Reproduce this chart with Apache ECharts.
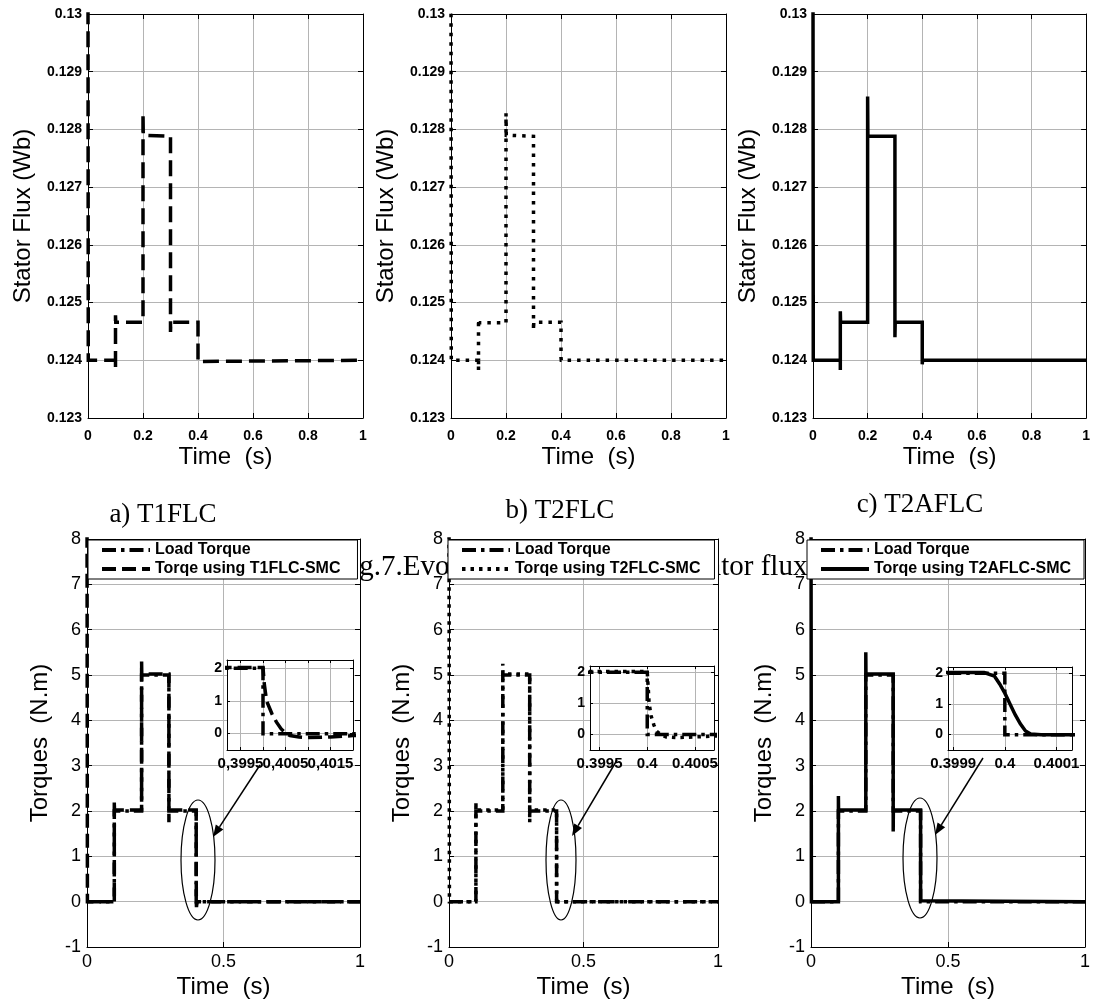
<!DOCTYPE html>
<html><head><meta charset="utf-8">
<script src="https://cdn.jsdelivr.net/npm/echarts@6/dist/echarts.min.js"></script>
<style>html,body{margin:0;padding:0;background:#fff}#c{width:1093px;height:1005px}</style>
</head><body><div id="c"></div>
<script>
// ---------- DATA ----------
const fluxTime   = [0, 0.001, 0.1, 0.1, 0.1, 0.101, 0.2, 0.2, 0.201, 0.3, 0.3, 0.301, 0.4, 0.4, 0.401, 1];
const fluxT1FLC  = [0.1305, 0.124, 0.124, 0.12384, 0.12478, 0.12466, 0.12466, 0.12828, 0.1279, 0.12788, 0.12449, 0.12466, 0.12466, 0.12398, 0.124, 0.124];
const fluxT2FLC  = [0.1305, 0.124, 0.124, 0.12383, 0.12471, 0.12465, 0.12465, 0.12828, 0.1279, 0.12788, 0.12452, 0.12466, 0.12466, 0.12405, 0.124, 0.124];
const fluxT2AFLC = [0.1305, 0.124, 0.124, 0.12383, 0.12485, 0.12466, 0.12466, 0.12857, 0.12788, 0.12788, 0.1244, 0.12466, 0.12466, 0.12393, 0.124, 0.124];

const loadTime   = [0, 0.1, 0.1, 0.2, 0.2, 0.3, 0.3, 0.4, 0.4, 1];
const loadTorque = [0, 0, 2, 2, 5, 5, 2, 2, 0, 0];

const torqueTimeT1 = [0, 0.0015, 0.1, 0.1, 0.1006, 0.2, 0.2, 0.2006, 0.3, 0.3, 0.3006, 0.4, 0.40003, 0.40008, 0.4002, 0.4003, 0.4004, 0.4005, 0.4006, 0.4008, 0.401, 0.4015, 0.402, 0.405, 1];
const torqueT1     = [9, 0, 0, 2.22, 2.02, 2.02, 5.3, 5.02, 5.02, 1.75, 2.02, 2.02, 1.5, 1.0, 0.6, 0.35, 0.15, 0.02, -0.06, -0.1, -0.12, -0.1, -0.06, 0, 0];
const torqueTimeT2 = [0, 0.0015, 0.1, 0.1, 0.1006, 0.2, 0.2, 0.2006, 0.3, 0.3, 0.3006, 0.4, 0.40002, 0.40004, 0.40007, 0.4001, 0.40015, 0.4002, 0.4003, 0.4005, 0.4007, 0.403, 1];
const torqueT2     = [9, 0, 0, 2.2, 2.02, 2.02, 5.25, 5.02, 5.02, 1.75, 2.02, 2.02, 1.0, 0.6, 0.3, 0.1, -0.02, -0.08, -0.1, -0.08, -0.05, 0, 0];
const torqueTimeT2A = [0, 0.0015, 0.1, 0.1, 0.1006, 0.2, 0.2, 0.2006, 0.3, 0.3, 0.3006, 0.39996, 0.39998, 0.39999, 0.4, 0.40001, 0.40002, 0.40003, 0.40004, 0.40005, 0.40007, 1];
const torqueT2A     = [9, 0, 0, 2.33, 2.02, 2.02, 5.5, 5.02, 5.02, 1.55, 2.02, 2.02, 1.9, 1.65, 1.35, 1.0, 0.65, 0.35, 0.12, 0.02, 0, 0];

const insetTicksA = {3995: '0,3995', 4005: '0,4005', 4015: '0,4015'};
const insetTicksB = {3995: '0.3995', 4000: '0.4', 4005: '0.4005'};
const insetTicksC = {39990: '0.3999', 40000: '0.4', 40010: '0.4001'};

const names = {
  load: 'Load Torque',
  t1: 'Torqe using T1FLC-SMC',
  t2: 'Torqe using T2FLC-SMC',
  t2a: 'Torqe using T2AFLC-SMC'
};
const captions = ['a) T1FLC', 'b) T2FLC', 'c) T2AFLC'];
const figCaption = ['Fig.7.Evolution of', 'stator flux'];

// ---------- BUILD ----------
const SANS = '"Liberation Sans", Arial, Helvetica, sans-serif';
const SERIF = '"Liberation Serif", "Times New Roman", serif';
const grids = [], xAxes = [], yAxes = [], series = [];

function scaleOpt(r, auto) {
  // auto: let ECharts put ticks on multiples of the step, box edges stay at min/max
  return auto ? {min: r[0], max: r[1], minInterval: r[2], maxInterval: r[2], splitNumber: 5}
              : {min: r[0], max: r[1], interval: r[2]};
}

function panel(rect, o) {
  const gi = grids.length;
  const z = o.z || 0;
  grids.push(Object.assign({show: true, backgroundColor: '#fff', borderWidth: 0, z: z}, rect));
  const line = {show: true, onZero: false, lineStyle: {color: '#000', width: 1}};
  const tick = {show: true, inside: true, length: o.tickLen || 5, lineStyle: {color: '#000', width: 1}};
  const split = {show: true, lineStyle: {color: '#b4b4b4', width: 1, type: 'solid'}};
  function lab(fs, margin, fmt) {
    const l = {show: true, color: '#000', fontFamily: SANS, fontSize: fs, fontWeight: o.bold ? 'bold' : 'normal', margin: margin, hideOverlap: false};
    if (fmt) l.formatter = fmt;
    return l;
  }
  const nts = {color: '#000', fontFamily: SANS, fontSize: 24};
  const xs = scaleOpt(o.x, o.auto), ys = scaleOpt(o.y, o.auto);
  xAxes.push(Object.assign({type: 'value', gridIndex: gi, position: 'bottom', z: z,
    axisLine: line, axisTick: tick, splitLine: split, axisLabel: lab(o.xfs, o.xm, o.xfmt),
    name: o.xname || '', nameLocation: 'middle', nameGap: o.xgap || 0, nameTextStyle: nts}, xs));
  xAxes.push(Object.assign({type: 'value', gridIndex: gi, position: 'top', z: z,
    axisLine: line, axisTick: tick, splitLine: {show: false}, axisLabel: {show: false}}, xs));
  yAxes.push(Object.assign({type: 'value', gridIndex: gi, position: 'left', z: z,
    axisLine: line, axisTick: tick, splitLine: split, axisLabel: lab(o.yfs, o.ym, o.yfmt),
    name: o.yname || '', nameLocation: 'middle', nameGap: o.ygap || 0, nameTextStyle: nts}, ys));
  yAxes.push(Object.assign({type: 'value', gridIndex: gi, position: 'right', z: z,
    axisLine: line, axisTick: tick, splitLine: {show: false}, axisLabel: {show: false}}, ys));
  return gi;
}

function addLine(gi, name, t, v, style) {
  series.push({
    type: 'line', name: name, xAxisIndex: 2 * gi, yAxisIndex: 2 * gi,
    data: t.map((x, i) => [x, v[i]]),
    symbol: 'none', showSymbol: false, silent: true, animation: false, clip: true,
    itemStyle: {color: '#000'},
    lineStyle: Object.assign({color: '#000', cap: 'butt', join: 'miter'}, style)
  });
}

const sDash   = {width: 3.5, type: [16, 7]};
const sDot    = {width: 3.5, type: [3.5, 6]};
const sSolid  = {width: 3.5, type: 'solid'};
const sDashDot = {width: 3.5, type: [14, 5, 3.5, 5]};
const sTqDash = {width: 3.5, type: [14, 6]};
const sTqDot  = {width: 3.5, type: [3.5, 5]};

const fluxOpt = {x: [0, 1, 0.2], y: [0.123, 0.13, 0.001], bold: true, xfs: 14, yfs: 14, xm: 11, ym: 6,
  xname: 'Time  (s)', xgap: 27, yname: 'Stator Flux (Wb)', ygap: 53};
const gFa = panel({left: 88, top: 14, width: 275, height: 404}, fluxOpt);
const gFb = panel({left: 451, top: 14, width: 275, height: 404}, fluxOpt);
const gFc = panel({left: 813, top: 14, width: 278, height: 404}, fluxOpt);
addLine(gFa, 'flux T1FLC', fluxTime, fluxT1FLC, sDash);
addLine(gFb, 'flux T2FLC', fluxTime, fluxT2FLC, sDot);
addLine(gFc, 'flux T2AFLC', fluxTime, fluxT2AFLC, sSolid);

const tqOpt = {x: [0, 1, 0.5], y: [-1, 8, 1], bold: false, xfs: 18, yfs: 18, xm: 6, ym: 6,
  xname: 'Time  (s)', xgap: 28, yname: 'Torques  (N.m)', ygap: 35};
const gTa = panel({left: 87, top: 539, width: 273, height: 408}, tqOpt);
const gTb = panel({left: 449, top: 539, width: 269, height: 408}, tqOpt);
const gTc = panel({left: 811, top: 539, width: 278, height: 408}, tqOpt);
addLine(gTa, names.load, loadTime, loadTorque, sDashDot);
addLine(gTa, names.t1, torqueTimeT1, torqueT1, sTqDash);
addLine(gTb, names.load, loadTime, loadTorque, sDashDot);
addLine(gTb, names.t2, torqueTimeT2, torqueT2, sTqDot);
addLine(gTc, names.load, loadTime, loadTorque, sDashDot);
addLine(gTc, names.t2a, torqueTimeT2A, torqueT2A, sSolid);

const yInsetFmt = v => { const r = Math.round(v * 100) / 100; return (r % 1 === 0) ? String(Math.abs(r) === 0 ? 0 : r) : ''; };
const insBase = {auto: true, bold: true, xfs: 15, yfs: 14, xm: 6, ym: 5, z: 1, tickLen: 3, yfmt: yInsetFmt};
const gIa = panel({left: 227, top: 660, width: 126, height: 90},
  Object.assign({}, insBase, {y: [-0.5, 2.25, 1], x: [0.3992, 0.402, 0.0005], xfmt: v => insetTicksA[Math.round(v * 1e4)] || ''}));
const gIb = panel({left: 590, top: 666, width: 124, height: 84},
  Object.assign({}, insBase, {y: [-0.5, 2.2, 1], x: [0.3994, 0.4007, 0.0005], xfmt: v => insetTicksB[Math.round(v * 1e4)] || ''}));
const gIc = panel({left: 948, top: 667, width: 124, height: 83},
  Object.assign({}, insBase, {y: [-0.5, 2.2, 1], x: [0.39989, 0.40013, 0.0001], xfmt: v => insetTicksC[Math.round(v * 1e5)] || ''}));
addLine(gIa, names.load, loadTime, loadTorque, sDashDot);
addLine(gIa, names.t1, torqueTimeT1, torqueT1, sTqDash);
addLine(gIb, names.load, loadTime, loadTorque, sDashDot);
addLine(gIb, names.t2, torqueTimeT2, torqueT2, sTqDot);
addLine(gIc, names.load, loadTime, loadTorque, sDashDot);
addLine(gIc, names.t2a, torqueTimeT2A, torqueT2A, sSolid);

function legend(left, second, padR) {
  return {
    left: left, top: 540, orient: 'vertical', selectedMode: false,
    data: [names.load, second],
    backgroundColor: '#fff', borderColor: '#000', borderWidth: 1, borderRadius: 0,
    padding: [2, padR, 2, 12], itemGap: 3, itemWidth: 48, itemHeight: 14,
    itemStyle: {opacity: 0, borderWidth: 0},
    lineStyle: {width: 4},
    textStyle: {color: '#000', fontFamily: SANS, fontWeight: 'bold', fontSize: 16}
  };
}

function arrow(x1, y1, x2, y2) {
  const dx = x2 - x1, dy = y2 - y1, L = Math.hypot(dx, dy), ux = dx / L, uy = dy / L, h = 12, w = 4.5;
  const bx = x2 - ux * h, by = y2 - uy * h;
  return [
    {type: 'line', shape: {x1: x1, y1: y1, x2: bx, y2: by}, style: {stroke: '#000', lineWidth: 1.5}, z: 20, silent: true},
    {type: 'polygon', shape: {points: [[x2, y2], [bx - uy * w, by + ux * w], [bx + uy * w, by - ux * w]]}, style: {fill: '#000'}, z: 20, silent: true}
  ];
}
function ellipse(cx, cy, rx, ry) {
  return {type: 'ellipse', shape: {cx: cx, cy: cy, rx: rx, ry: ry}, style: {fill: 'none', stroke: '#000', lineWidth: 1.2}, z: 20, silent: true};
}
function txt(s, x, y, size, align) {
  return {type: 'text', x: x, y: y, z: -1, silent: true,
    style: {text: s, fontSize: size, fontFamily: SERIF, fill: '#000', textAlign: align, align: align, textVerticalAlign: 'middle', verticalAlign: 'middle'}};
}

const elements = [
  txt(captions[0], 163, 515, 27, 'center'),
  txt(captions[1], 560, 511, 27, 'center'),
  txt(captions[2], 920, 505, 27, 'center'),
  txt(figCaption[0], 335, 567, 29, 'left'),
  txt(figCaption[1], 689, 567, 29, 'left'),
  ellipse(198, 860, 17, 60),
  ellipse(561, 860, 15, 60),
  ellipse(920, 858, 17, 60)
].concat(arrow(260, 765, 213, 837), arrow(617, 760, 572, 836), arrow(983, 758, 935, 835));

const chart = echarts.init(document.getElementById('c'), null, {renderer: 'canvas'});
chart.setOption({
  animation: false,
  backgroundColor: '#fff',
  grid: grids, xAxis: xAxes, yAxis: yAxes, series: series,
  legend: [legend(88, names.t1, 17), legend(448, names.t2, 14), legend(807, names.t2a, 13)],
  graphic: {elements: elements}
});
</script></body></html>
